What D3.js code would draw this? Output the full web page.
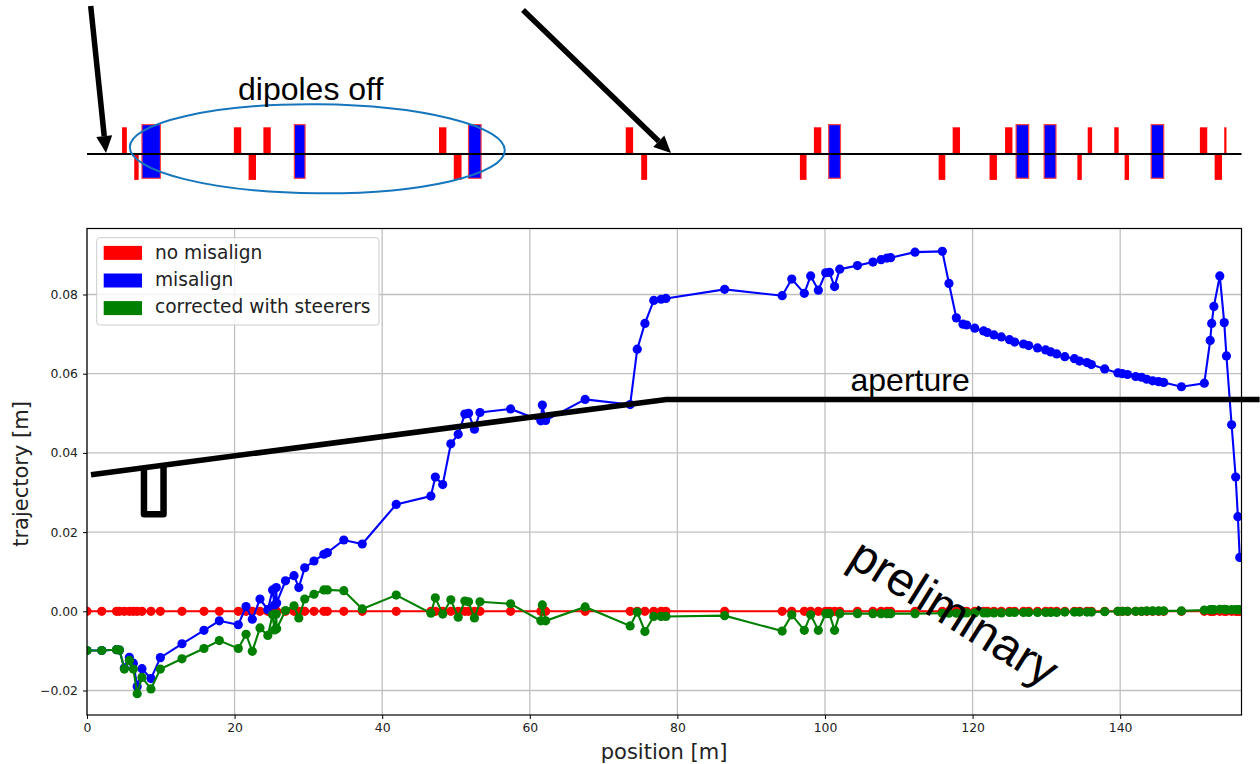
<!DOCTYPE html>
<html>
<head>
<meta charset="utf-8">
<script src="https://cdn.jsdelivr.net/npm/d3@7"></script>
<style>
  body { margin: 0; background: #fff; }
  svg { display: block; }
  text { font-family: "DejaVu Sans", sans-serif; }
  .note { font-family: "Liberation Sans", sans-serif; fill: #000; }
</style>
</head>
<body>
<div id="chart"></div>
<script>
// element positions along the line [m]
var positions = [
  0, 2.0, 4.0, 4.4, 5.06, 5.74, 6.28, 6.8, 7.45, 8.67,
  9.94, 12.87, 15.85, 17.93, 20.5, 21.55, 22.4, 23.44, 24.5, 25.15,
  25.4, 25.65, 25.7, 26.9, 28.05, 28.7, 29.5, 30.76, 32.1, 32.57,
  34.8, 37.3, 41.9, 46.6, 47.2, 48.2, 49.3, 50.3, 51.2, 51.7,
  52.5, 53.25, 57.4, 61.5, 61.7, 62.15, 67.5, 73.6, 74.56, 75.6,
  76.8, 77.8, 78.45, 86.4, 94.2, 95.5, 97.2, 98.06, 99.1, 100.1,
  100.6, 101.3, 102.0, 104.4, 106.5, 107.6, 108.4, 108.9, 112.2, 115.9,
  116.8, 117.8, 118.7, 119.2, 120.3, 121.5, 122, 122.9, 123.9, 125,
  125.7, 126.9, 127.6, 128.8, 129.9, 130.6, 131.4, 132.5, 133.8, 134.5,
  135.5, 136.1, 137.9, 139.7, 140.3, 141, 142.1, 142.9, 143.6, 144.4,
  145.2, 145.9, 148.3, 151.4, 152.2, 152.4, 152.7, 153.5, 154.1, 154.4,
  155.1, 155.65, 155.95, 156.2
];

var noMisalign = [
  0, 0, 0, 0, 0, 0, 0, 0, 0, 0,
  0, 0, 0, 0, 0, 0, 0, 0, 0, 0,
  0, 0, 0, 0, 0, 0, 0, 0, 0, 0,
  0, 0, 0, 0, 0, 0, 0, 0, 0, 0,
  0, 0, 0, 0, 0, 0, 0, 0, 0, 0,
  0, 0, 0, 0, 0, 0, 0, 0, 0, 0,
  0, 0, 0, 0, 0, 0, 0, 0, 0, 0,
  0, 0, 0, 0, 0, 0, 0, 0, 0, 0,
  0, 0, 0, 0, 0, 0, 0, 0, 0, 0,
  0, 0, 0, 0, 0, 0, 0, 0, 0, 0,
  0, 0, 0, 0, 0, 0, 0, 0, 0, 0,
  0, 0, 0, 0
];

var misalign = [
  -0.0099, -0.0099, -0.0097, -0.0098, -0.0143, -0.0116, -0.0131, -0.019, -0.0145, -0.017,
  -0.0117, -0.0082, -0.0048, -0.0024, -0.0034, 0.0012, -0.002, 0.0031, 0.0004, 0.0054,
  0.0016, 0.006, 0.0021, 0.0077, 0.009, 0.006, 0.011, 0.0127, 0.0144, 0.0148,
  0.018, 0.017, 0.027, 0.0291, 0.0339, 0.032, 0.0423, 0.0447, 0.0498, 0.05,
  0.046, 0.0502, 0.0511, 0.0481, 0.0521, 0.0482, 0.0535, 0.0522, 0.0662, 0.0727,
  0.0785, 0.0788, 0.079, 0.0813, 0.0797, 0.0839, 0.0803, 0.0847, 0.0811, 0.0855,
  0.0856, 0.082, 0.0864, 0.0873, 0.0882, 0.0888, 0.0892, 0.0893, 0.0907, 0.0909,
  0.0828, 0.0741, 0.0725, 0.0723, 0.0715, 0.0708, 0.0704, 0.0698, 0.0693, 0.0686,
  0.068, 0.0675, 0.0671, 0.0665, 0.066, 0.0655, 0.065, 0.0643, 0.0638, 0.0632,
  0.0628, 0.0623, 0.0612, 0.0602, 0.06, 0.0598, 0.0593, 0.0591, 0.0586, 0.0582,
  0.058, 0.0578, 0.0567, 0.0576, 0.0684, 0.0727, 0.077, 0.0847, 0.0729, 0.0645,
  0.0471, 0.0339, 0.0239, 0.0136
];

var corrected = [
  -0.0099, -0.0099, -0.0097, -0.0098, -0.0146, -0.0124, -0.0146, -0.0208, -0.0167, -0.0196,
  -0.0146, -0.012, -0.0094, -0.0074, -0.0094, -0.0058, -0.0101, -0.0042, -0.0061, -0.0009,
  -0.0047, -0.0007, -0.0044, 0.0002, 0.0014, -0.0017, 0.0031, 0.0043, 0.0054, 0.0054,
  0.0052, 0.0006, 0.0041, -0.0005, 0.0034, -0.0007, 0.0029, -0.0015, 0.0026, 0.0024,
  -0.0017, 0.0024, 0.0019, -0.0024, 0.0016, -0.0024, 0.0011, -0.0037, -0.0002, -0.0051,
  -0.0013, -0.0013, -0.0013, -0.0011, -0.005, -0.0009, -0.0048, -0.0009, -0.0048, -0.0006,
  -0.0006, -0.0048, -0.0006, -0.0006, -0.0006, -0.0006, -0.0006, -0.0006, -0.0006, -0.0005,
  -0.0005, -0.0005, -0.0004, -0.0004, -0.0004, -0.0004, -0.0004, -0.0004, -0.0004, -0.0003,
  -0.0003, -0.0003, -0.0003, -0.0003, -0.0003, -0.0003, -0.0003, -0.0002, -0.0002, -0.0002,
  -0.0002, -0.0002, -0.0001, 0, 0, 0, 0, 0, 0.0001, 0.0001,
  0.0001, 0.0001, 0.0001, 0.0003, 0.0004, 0.0004, 0.0004, 0.0005, 0.0005, 0.0004,
  0.0004, 0.0004, 0.0004, 0.0004
];

var xTicks = [0, 20, 40, 60, 80, 100, 120, 140];
var yTicks = [-0.02, 0, 0.02, 0.04, 0.06, 0.08];
var legendLabels = ["no misalign", "misalign", "corrected with steerers"];
var seriesColors = ["#ff0000", "#0000ff", "#008000"];

// lattice strip: quadrupoles above and below the line, dipoles across it
var quadUpStart = [4.75, 19.9, 23.9, 47.7, 73.0, 98.5, 117.3, 124.4, 135.6, 139.2, 150.8, 154.1];
var quadUpEnd = [5.4, 20.9, 24.9, 48.7, 74.0, 99.5, 118.3, 125.4, 136.2, 139.8, 151.8, 154.4];
var quadDownStart = [6.4, 21.9, 49.7, 75.1, 96.6, 115.4, 122.3, 134.2, 140.6, 152.8];
var quadDownEnd = [7.0, 22.9, 50.75, 75.9, 97.5, 116.3, 123.3, 134.8, 141.2, 153.8];
var dipoleStart = [7.45, 28.1, 51.7, 100.5, 125.9, 129.7, 144.2];
var dipoleEnd = [9.95, 29.55, 53.4, 102.1, 127.6, 131.3, 145.9];

// hand drawn notes on the plot
var apertureX = [0.54, 78.5, 158.9];
var apertureY = [0.0345, 0.0535, 0.0535];
var boxX = [7.72, 7.72, 10.37, 10.37];
var boxY = [0.0365, 0.0245, 0.0245, 0.0365];

var width = 1260, height = 764;
var margin = {top: 228.5, right: 18.5, bottom: 49, left: 87};
var plotWidth = width - margin.left - margin.right;
var plotHeight = height - margin.top - margin.bottom;

var svg = d3.select("#chart").append("svg")
  .attr("width", width)
  .attr("height", height);

var x = d3.scaleLinear().domain([0, 156.44]).range([margin.left, width - margin.right]);
var y = d3.scaleLinear().domain([-0.02619, 0.09667]).range([height - margin.bottom, margin.top]);
// strip scale, 1 = height of a quadrupole
var s = d3.scaleLinear().domain([0, 1]).range([154, 127.3]);

drawStrip();
drawPlot();
drawNotes();

function drawStrip() {
  var strip = svg.append("g");

  strip.selectAll(".quad-up").data(quadUpStart).enter().append("rect")
    .attr("x", function(d) { return x(d); })
    .attr("y", s(1))
    .attr("width", function(d, i) { return x(quadUpEnd[i]) - x(d); })
    .attr("height", s(0) - s(1))
    .attr("fill", "#ff0000");

  strip.selectAll(".quad-down").data(quadDownStart).enter().append("rect")
    .attr("x", function(d) { return x(d); })
    .attr("y", s(0))
    .attr("width", function(d, i) { return x(quadDownEnd[i]) - x(d); })
    .attr("height", s(-0.97) - s(0))
    .attr("fill", "#ff0000");

  strip.selectAll(".dipole").data(dipoleStart).enter().append("rect")
    .attr("x", function(d) { return x(d); })
    .attr("y", s(1.1))
    .attr("width", function(d, i) { return x(dipoleEnd[i]) - x(d); })
    .attr("height", s(-0.91) - s(1.1))
    .attr("fill", "#0000ff")
    .attr("stroke", "#ff4040")
    .attr("stroke-width", 1.2);

  strip.append("line")
    .attr("x1", x(0)).attr("x2", x(156.44))
    .attr("y1", s(0)).attr("y2", s(0))
    .attr("stroke", "#000")
    .attr("stroke-width", 2);
}

function drawPlot() {
  svg.append("clipPath").attr("id", "plot-clip").append("rect")
    .attr("x", margin.left).attr("y", margin.top)
    .attr("width", plotWidth).attr("height", plotHeight);

  // grid
  svg.append("g").selectAll("line").data(xTicks).enter().append("line")
    .attr("x1", function(d) { return x(d); }).attr("x2", function(d) { return x(d); })
    .attr("y1", margin.top).attr("y2", height - margin.bottom)
    .attr("stroke", "#c0c0c0").attr("stroke-width", 1.3);
  svg.append("g").selectAll("line").data(yTicks).enter().append("line")
    .attr("x1", margin.left).attr("x2", width - margin.right)
    .attr("y1", function(d) { return y(d); }).attr("y2", function(d) { return y(d); })
    .attr("stroke", "#c0c0c0").attr("stroke-width", 1.3);

  var line = d3.line()
    .x(function(d, i) { return x(positions[i]); })
    .y(function(d) { return y(d); });

  var plot = svg.append("g").attr("clip-path", "url(#plot-clip)");

  [noMisalign, misalign, corrected].forEach(function(values, k) {
    plot.append("path")
      .datum(values)
      .attr("d", line)
      .attr("fill", "none")
      .attr("stroke", seriesColors[k])
      .attr("stroke-width", 2.1);
    plot.append("g").selectAll("circle").data(values).enter().append("circle")
      .attr("cx", function(d, i) { return x(positions[i]); })
      .attr("cy", function(d) { return y(d); })
      .attr("r", 4.6)
      .attr("fill", seriesColors[k]);
  });

  // axes
  var xAxis = svg.append("g")
    .attr("transform", "translate(0," + (height - margin.bottom) + ")")
    .call(d3.axisBottom(x).tickValues(xTicks).tickSize(4).tickPadding(4).tickFormat(d3.format("d")));
  var yAxis = svg.append("g")
    .attr("transform", "translate(" + margin.left + ",0)")
    .call(d3.axisLeft(y).tickValues(yTicks).tickSize(4).tickPadding(5)
      .tickFormat(function(d) { return d === 0 ? "0.00" : d3.format(".2f")(d).replace("-", "\u2212"); }));

  [xAxis, yAxis].forEach(function(axis) {
    axis.select(".domain").remove();
    axis.selectAll("text").style("font-size", "12.4px").style("fill", "#222");
  });

  svg.append("rect")
    .attr("x", margin.left).attr("y", margin.top)
    .attr("width", plotWidth).attr("height", plotHeight)
    .attr("fill", "none").attr("stroke", "#000").attr("stroke-width", 1.2);

  svg.append("text")
    .attr("x", x(78.2)).attr("y", 759)
    .attr("text-anchor", "middle")
    .style("font-size", "21px").style("fill", "#222")
    .text("position [m]");
  svg.append("text")
    .attr("transform", "translate(27.5,474) rotate(-90)")
    .attr("text-anchor", "middle")
    .style("font-size", "21px").style("fill", "#222")
    .text("trajectory [m]");

  // legend
  var legend = svg.append("g");
  legend.append("rect")
    .attr("x", 96.7).attr("y", 237.7)
    .attr("width", 282.3).attr("height", 87.3)
    .attr("rx", 3)
    .attr("fill", "#fff").attr("fill-opacity", 0.8)
    .attr("stroke", "#ccc").attr("stroke-width", 1);
  legend.selectAll(".patch").data(legendLabels).enter().append("rect")
    .attr("x", 103.7)
    .attr("y", function(d, i) { return 245.9 + i * 27.6; })
    .attr("width", 38.3).attr("height", 14)
    .attr("fill", function(d, i) { return seriesColors[i]; });
  legend.selectAll("text").data(legendLabels).enter().append("text")
    .attr("x", 155)
    .attr("y", function(d, i) { return 259 + i * 27; })
    .style("font-size", "18.6px").style("fill", "#222")
    .text(function(d) { return d; });
}

function drawNotes() {
  var notes = svg.append("g");

  var noteLine = d3.line()
    .x(function(d) { return x(d[0]); })
    .y(function(d) { return y(d[1]); });

  notes.append("path")
    .datum(d3.zip(apertureX, apertureY))
    .attr("d", noteLine)
    .attr("fill", "none").attr("stroke", "#000").attr("stroke-width", 5.5);
  notes.append("path")
    .datum(d3.zip(boxX, boxY))
    .attr("d", noteLine)
    .attr("fill", "none").attr("stroke", "#000").attr("stroke-width", 6.5)
    .attr("stroke-linejoin", "round");

  notes.append("ellipse")
    .attr("cx", 317.3).attr("cy", 148.8)
    .attr("rx", 187.5).attr("ry", 44.5)
    .attr("transform", "rotate(0.5 317.3 148.8)")
    .attr("fill", "none").attr("stroke", "#1576bd").attr("stroke-width", 2);

  // the two arrows pointing at the strip
  var arrows = [[90.7, 6, 106, 153], [523, 10, 671, 153]];
  arrows.forEach(function(a) {
    var angle = Math.atan2(a[3] - a[1], a[2] - a[0]);
    var len = 17, half = 8;
    var bx = a[2] - len * Math.cos(angle), by = a[3] - len * Math.sin(angle);
    notes.append("line")
      .attr("x1", a[0]).attr("y1", a[1]).attr("x2", bx).attr("y2", by)
      .attr("stroke", "#000").attr("stroke-width", 5.5);
    notes.append("path")
      .attr("d", d3.line()([
        [a[2], a[3]],
        [bx - half * Math.sin(angle), by + half * Math.cos(angle)],
        [bx + half * Math.sin(angle), by - half * Math.cos(angle)]
      ]) + "Z")
      .attr("fill", "#000");
  });

  notes.append("text").attr("class", "note")
    .attr("x", 238).attr("y", 99.5)
    .style("font-size", "32px")
    .text("dipoles off");
  notes.append("text").attr("class", "note")
    .attr("x", 850.5).attr("y", 391)
    .style("font-size", "32px")
    .text("aperture");
  notes.append("text").attr("class", "note")
    .attr("transform", "translate(846,564) rotate(32)")
    .style("font-size", "48px")
    .text("preliminary");
}
</script>
</body>
</html>
